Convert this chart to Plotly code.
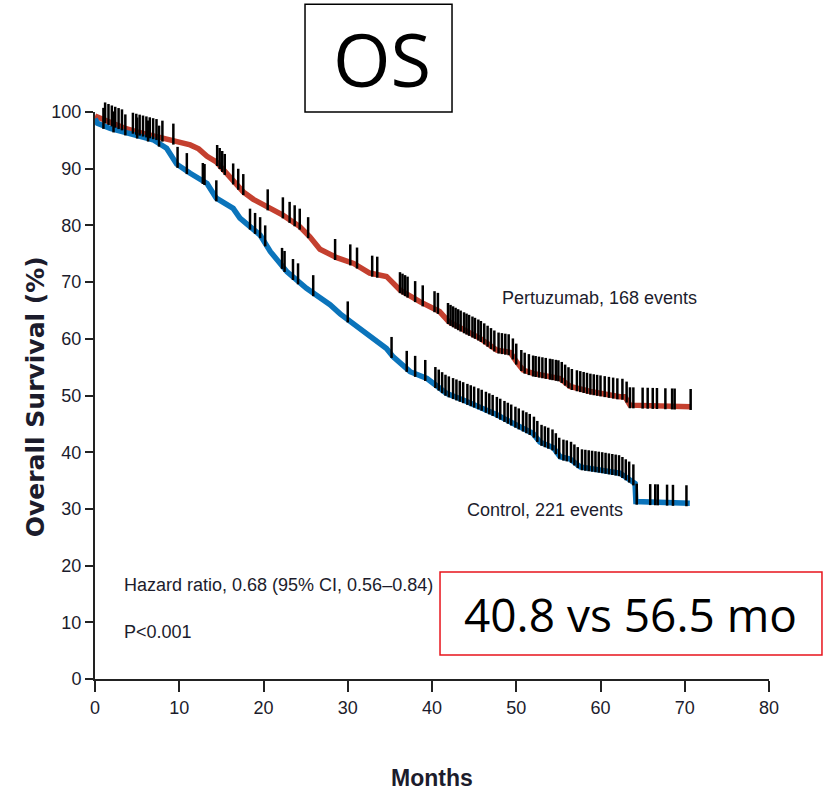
import numpy as np
import plotly.graph_objects as go

# Kaplan-Meier estimates read as (month, % surviving) knots
pertuzumab_t = [0, 0.8, 2.0, 3.4, 5.0, 7.3, 9.3, 11.3, 12.3, 13.3, 14.4, 15.2, 16.0, 17.6, 18.8,
                20.0, 22.3, 24.3, 25.5, 26.7, 28.7, 30.7, 32.6, 34.6, 35.3, 36.2, 38.6, 40.9,
                42.0, 43.3, 45.7, 47.7, 49.3, 50.0, 50.8, 52.0, 55.2, 56.4, 58.8, 62.3, 62.9,
                63.5, 70.7]
pertuzumab_s = [99.3, 98.8, 98.0, 97.2, 96.5, 95.6, 94.8, 94.2, 93.5, 92.2, 91.2, 89.8, 88.4, 85.9,
                84.6, 83.6, 81.8, 79.8, 78.0, 75.8, 74.3, 73.3, 71.6, 71.0, 70.0, 68.6, 66.5, 64.8,
                63.0, 61.9, 60.1, 58.0, 57.6, 56.0, 54.5, 53.9, 53.0, 51.6, 50.7, 49.8, 49.8,
                48.3, 48.0]

control_t = [0, 0.3, 1.8, 4.2, 6.9, 8.5, 9.7, 11.3, 13.3, 14.4, 16.4, 17.2, 19.6, 20.8, 22.8,
             25.1, 27.9, 29.1, 30.7, 32.6, 34.6, 35.4, 37.4, 39.4, 41.7, 43.7, 45.7, 47.7, 49.6,
             52.0, 52.8, 54.4, 55.2, 56.4, 57.6, 60.0, 62.3, 63.5, 64.1, 64.2, 70.6]
control_s = [98.8, 98.0, 97.1, 96.2, 95.1, 93.6, 90.8, 89.2, 87.4, 84.8, 83.0, 81.3, 78.3, 75.4,
             71.8, 68.9, 66.0, 64.4, 62.7, 60.4, 58.3, 56.8, 54.2, 53.0, 50.4, 49.2, 48.0, 46.6,
             45.1, 43.3, 41.8, 40.8, 39.2, 38.8, 37.4, 36.9, 36.3, 35.1, 34.5, 31.3, 31.0]

# Censoring times (months)
pertuzumab_censor = [0.5, 1.2, 1.6, 2.0, 2.4, 2.8, 3.2, 4.5, 4.9, 5.3, 5.7, 6.1, 6.5, 6.9, 7.3,
                     8.0, 9.3, 14.5, 14.8, 15.1, 15.4, 16.4, 17.0, 17.6, 20.5, 22.3, 23.1, 23.7,
                     24.3, 25.3, 28.5, 30.3, 31.1, 32.9, 33.5, 36.2, 36.5, 36.8, 37.1, 38.0, 38.9,
                     40.3, 40.7, 41.9, 42.2, 42.5, 42.8, 43.1, 43.4, 43.8, 44.1, 44.4, 44.8, 45.1,
                     45.5, 45.8, 46.2, 46.6, 47.0, 47.4, 47.9, 48.3, 48.7, 49.1, 49.6, 50.0, 50.6,
                     51.0, 51.5, 52.0, 52.3, 52.7, 53.1, 53.5, 54.0, 54.3, 54.7, 55.0, 55.4, 55.8,
                     56.2, 56.6, 57.2, 57.6, 58.0, 58.4, 58.8, 59.2, 59.6, 60.0, 60.5, 61.0, 61.5,
                     62.0, 62.6, 63.1, 63.5, 63.9, 65.0, 65.6, 66.2, 66.7, 67.7, 68.5, 68.8, 70.7]
control_censor = [1.0, 2.2, 3.6, 5.0, 6.3, 7.6, 9.8, 10.9, 12.8, 13.0, 14.4, 18.4, 19.0, 19.6,
                  20.2, 22.2, 22.5, 23.5, 24.1, 25.9, 30.0, 35.2, 37.0, 38.0, 39.2, 40.4, 40.8,
                  41.2, 41.6, 42.0, 42.5, 42.9, 43.3, 43.7, 44.2, 44.6, 45.0, 45.5, 45.9, 46.4,
                  46.8, 47.2, 47.7, 48.1, 48.6, 49.0, 49.4, 49.9, 50.3, 50.8, 51.2, 51.6, 52.1,
                  52.5, 53.0, 53.4, 53.8, 54.3, 54.7, 55.1, 55.6, 56.0, 56.5, 56.9, 57.3, 57.8,
                  58.2, 58.6, 59.0, 59.4, 59.8, 60.2, 60.6, 61.0, 61.4, 61.8, 62.2, 62.6, 63.0,
                  63.4, 63.9, 64.3, 65.9, 66.5, 66.8, 67.9, 68.6, 70.2]

x_ticks = [0, 10, 20, 30, 40, 50, 60, 70, 80]
y_ticks = [0, 10, 20, 30, 40, 50, 60, 70, 80, 90, 100]

RED = "#c4402f"
BLUE = "#0b74bb"
INK = "#1c1c2c"
SANS = "Liberation Sans, Arial, sans-serif"
TICK_LIFT = 1.3  # censor marks sit just above the curve

fig = go.Figure()

for t, s, col in [(pertuzumab_t, pertuzumab_s, RED), (control_t, control_s, BLUE)]:
    fig.add_trace(go.Scatter(x=t, y=s, mode="lines",
                             line=dict(color=col, width=5.5),
                             cliponaxis=False, showlegend=False, hoverinfo="skip"))

for ct, t, s in [(pertuzumab_censor, pertuzumab_t, pertuzumab_s),
                 (control_censor, control_t, control_s)]:
    ys = np.interp(ct, t, s) + TICK_LIFT
    fig.add_trace(go.Scatter(x=ct, y=ys, mode="markers",
                             marker=dict(symbol="line-ns", size=15,
                                         line=dict(color="black", width=2.5)),
                             cliponaxis=False, showlegend=False, hoverinfo="skip"))

fig.update_xaxes(range=[0, 80], tickvals=x_ticks, ticks="outside", ticklen=11, tickwidth=2,
                 tickcolor="#222", showline=True, linecolor="#222", linewidth=2,
                 showgrid=False, zeroline=False,
                 tickfont=dict(family=SANS, size=18, color=INK))
fig.update_yaxes(range=[0, 100], tickvals=y_ticks, ticks="outside", ticklen=8, tickwidth=2,
                 tickcolor="#222", showline=True, linecolor="#222", linewidth=2,
                 showgrid=False, zeroline=False,
                 tickfont=dict(family=SANS, size=18, color=INK))

annotations = [
    dict(text="<b>Overall Survival (%)</b>", xref="paper", yref="paper", x=-0.089, y=0.497,
         xanchor="center", yanchor="middle", textangle=-90, showarrow=False,
         font=dict(family="DejaVu Sans, sans-serif", size=25, color=INK)),
    dict(text="<b>Months</b>", xref="paper", yref="paper", x=0.5, y=-0.1746,
         xanchor="center", yanchor="middle", showarrow=False,
         font=dict(family=SANS, size=23, color=INK)),
    dict(text="Pertuzumab, 168 events", x=48.1, y=67.2, xanchor="left", yanchor="middle",
         showarrow=False, font=dict(family=SANS, size=18, color=INK)),
    dict(text="Control, 221 events", x=43.9, y=29.8, xanchor="left", yanchor="middle",
         showarrow=False, font=dict(family=SANS, size=18, color=INK)),
    dict(text="Hazard ratio, 0.68 (95% CI, 0.56–0.84)", x=3.2, y=16.6, xanchor="left",
         yanchor="middle", showarrow=False, font=dict(family=SANS, size=18, color=INK)),
    dict(text="P<0.001", x=3.2, y=8.3, xanchor="left", yanchor="middle", showarrow=False,
         font=dict(family=SANS, size=18, color=INK)),
    dict(text="OS", xref="paper", yref="paper", x=0.4258, y=1.0952, xanchor="center",
         yanchor="middle", showarrow=False,
         font=dict(family="Open Sans, sans-serif", size=74, color="black")),
    dict(text="40.8 vs 56.5 mo", xref="paper", yref="paper", x=0.7938, y=0.1146,
         xanchor="center", yanchor="middle", showarrow=False,
         font=dict(family="Open Sans, sans-serif", size=46, color="black")),
]

shapes = [
    dict(type="rect", xref="paper", yref="paper", x0=0.3116, x1=0.5297, y0=1.0, y1=1.19,
         line=dict(color="black", width=1.5), fillcolor="rgba(0,0,0,0)"),
    dict(type="rect", xref="paper", yref="paper", x0=0.5119, x1=1.0786, y0=0.0423, y1=0.1887,
         line=dict(color="#e8141c", width=1.5), fillcolor="white", layer="below"),
]

fig.update_layout(width=825, height=796, margin=dict(l=95, r=56, t=112, b=117),
                  paper_bgcolor="white", plot_bgcolor="white",
                  annotations=annotations, shapes=shapes)

fig.write_html("out.html")
